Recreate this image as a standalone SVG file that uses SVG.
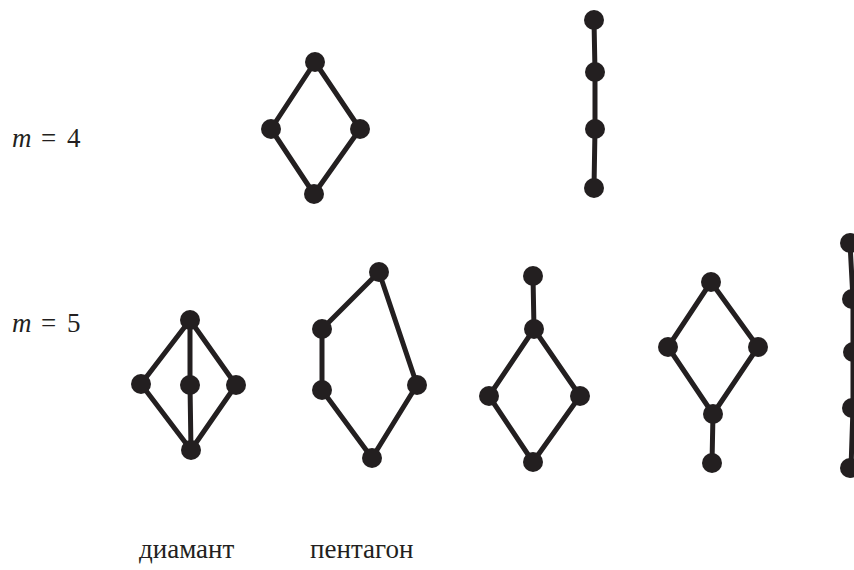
<svg xmlns="http://www.w3.org/2000/svg" width="854" height="570" viewBox="0 0 854 570">
  <style>
    .edge { stroke: #231f20; stroke-width: 5; fill: none; stroke-linecap: round; stroke-linejoin: round; }
    .node circle { fill: #231f20; }
    .lbl { font-family: 'Liberation Serif', 'DejaVu Serif', serif; font-size: 27px; fill: #231f20; }
  </style>
  <rect width="854" height="570" fill="#ffffff"/>

  <!-- row labels -->
  <text class="lbl" y="147"><tspan x="12" font-style="italic">m</tspan><tspan x="41">=</tspan><tspan x="67">4</tspan></text>
  <text class="lbl" y="332"><tspan x="12" font-style="italic">m</tspan><tspan x="41">=</tspan><tspan x="67">5</tspan></text>
  <text class="lbl" x="139" y="558">диамант</text>
  <text class="lbl" x="310" y="558">пентагон</text>

  <g id="connectors">
    <!-- m=4 diamond -->
    <path class="edge" d="M315,62 L271,129 L314,194 L360,129 Z"/>
    <!-- m=4 chain -->
    <path class="edge" d="M594,20 L595,72 L595,129 L594,188"/>
    <!-- m=5 diamant (M3) -->
    <path class="edge" d="M190,320 L141,384 L191,450 L236,385 Z M190,320 L190,385 L191,450"/>
    <!-- m=5 pentagon (N5) -->
    <path class="edge" d="M379,272 L322,329 L322,390 L372,458 L417,385 Z"/>
    <!-- m=5 diamond with top -->
    <path class="edge" d="M533,276 L534,329 L489,396 L533,462 L580,396 L534,329"/>
    <!-- m=5 diamond with bottom -->
    <path class="edge" d="M711,282 L668,347 L713,414 L758,347 Z M713,414 L712,463"/>
    <!-- m=5 chain -->
    <path class="edge" d="M850,243 L853,299 L853,352 L853,408 L851,468"/>
  </g>

  <g id="node-m4-diamond" class="node">
    <circle cx="315" cy="62" r="10"/>
    <circle cx="271" cy="129" r="10"/>
    <circle cx="360" cy="129" r="10"/>
    <circle cx="314" cy="194" r="10"/>
  </g>
  <g id="node-m4-chain" class="node">
    <circle cx="594" cy="20" r="10"/>
    <circle cx="595" cy="72" r="10"/>
    <circle cx="595" cy="129" r="10"/>
    <circle cx="594" cy="188" r="10"/>
  </g>
  <g id="node-m5-diamant" class="node">
    <circle cx="190" cy="320" r="10"/>
    <circle cx="141" cy="384" r="10"/>
    <circle cx="190" cy="385" r="10"/>
    <circle cx="236" cy="385" r="10"/>
    <circle cx="191" cy="450" r="10"/>
  </g>
  <g id="node-m5-pentagon" class="node">
    <circle cx="379" cy="272" r="10"/>
    <circle cx="322" cy="329" r="10"/>
    <circle cx="322" cy="390" r="10"/>
    <circle cx="417" cy="385" r="10"/>
    <circle cx="372" cy="458" r="10"/>
  </g>
  <g id="node-m5-diamond-top" class="node">
    <circle cx="533" cy="276" r="10"/>
    <circle cx="534" cy="329" r="10"/>
    <circle cx="489" cy="396" r="10"/>
    <circle cx="580" cy="396" r="10"/>
    <circle cx="533" cy="462" r="10"/>
  </g>
  <g id="node-m5-diamond-bottom" class="node">
    <circle cx="711" cy="282" r="10"/>
    <circle cx="668" cy="347" r="10"/>
    <circle cx="758" cy="347" r="10"/>
    <circle cx="713" cy="414" r="10"/>
    <circle cx="712" cy="463" r="10"/>
  </g>
  <g id="node-m5-chain" class="node">
    <circle cx="850" cy="243" r="10"/>
    <circle cx="852" cy="299" r="10"/>
    <circle cx="853" cy="352" r="10"/>
    <circle cx="852" cy="408" r="10"/>
    <circle cx="850" cy="468" r="10"/>
  </g>
</svg>
